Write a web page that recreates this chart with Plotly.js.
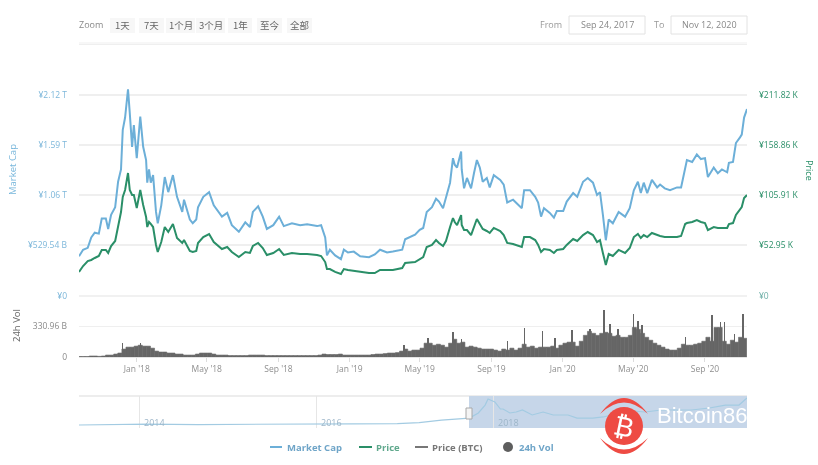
<!DOCTYPE html>
<html><head><meta charset="utf-8">
<script src="https://cdn.plot.ly/plotly-3.0.1.min.js"></script>
<style>html,body{margin:0;padding:0;background:#fff;overflow:hidden}#c{width:818px;height:465px;filter:blur(.55px)}</style>
</head><body><div id="c"></div>
<script>
const dates=["2017-09-24","2017-10-01","2017-10-09","2017-10-15","2017-10-21","2017-10-28","2017-11-02","2017-11-09","2017-11-13","2017-11-18","2017-11-25","2017-11-30","2017-12-05","2017-12-08","2017-12-12","2017-12-17","2017-12-20","2017-12-24","2017-12-27","2018-01-01","2018-01-07","2018-01-12","2018-01-17","2018-01-19","2018-01-22","2018-01-25","2018-01-29","2018-02-03","2018-02-06","2018-02-12","2018-02-18","2018-02-24","2018-03-04","2018-03-11","2018-03-20","2018-03-23","2018-04-02","2018-04-07","2018-04-13","2018-04-16","2018-04-25","2018-05-05","2018-05-13","2018-05-27","2018-06-05","2018-06-13","2018-06-25","2018-07-06","2018-07-14","2018-07-19","2018-07-28","2018-08-05","2018-08-12","2018-08-23","2018-09-02","2018-09-10","2018-09-24","2018-10-08","2018-10-20","2018-11-06","2018-11-13","2018-11-20","2018-11-23","2018-11-28","2018-12-07","2018-12-17","2018-12-22","2018-12-29","2019-01-08","2019-01-19","2019-02-03","2019-02-13","2019-02-22","2019-03-06","2019-03-16","2019-04-01","2019-04-06","2019-04-23","2019-05-01","2019-05-07","2019-05-13","2019-05-22","2019-05-29","2019-06-03","2019-06-10","2019-06-15","2019-06-22","2019-06-27","2019-06-30","2019-07-04","2019-07-11","2019-07-12","2019-07-16","2019-07-21","2019-07-28","2019-08-02","2019-08-07","2019-08-12","2019-08-17","2019-08-24","2019-08-29","2019-09-05","2019-09-16","2019-09-22","2019-09-28","2019-10-08","2019-10-23","2019-10-27","2019-11-06","2019-11-15","2019-11-20","2019-11-25","2019-11-30","2019-12-10","2019-12-17","2019-12-22","2020-01-02","2020-01-08","2020-01-19","2020-01-26","2020-02-05","2020-02-13","2020-02-22","2020-02-29","2020-03-05","2020-03-10","2020-03-15","2020-03-20","2020-03-27","2020-04-06","2020-04-17","2020-04-25","2020-05-02","2020-05-09","2020-05-14","2020-05-19","2020-05-25","2020-06-02","2020-06-11","2020-06-16","2020-06-24","2020-07-03","2020-07-15","2020-07-22","2020-07-29","2020-08-01","2020-08-10","2020-08-18","2020-08-25","2020-09-01","2020-09-06","2020-09-16","2020-09-23","2020-09-30","2020-10-09","2020-10-12","2020-10-19","2020-10-24","2020-10-31","2020-11-03","2020-11-07","2020-11-12"];
const marketCapT=[.41,.48,.50,.61,.66,.65,.81,.81,.70,.85,.93,1.20,1.33,1.75,1.88,2.18,1.93,1.57,1.80,1.45,1.89,1.57,1.43,1.19,1.33,1.19,1.27,.88,.76,.95,1.25,1.09,1.27,1.04,.88,1.01,.80,.76,.80,.93,1.04,1.09,.95,.83,.87,.74,.67,.77,.72,.88,.94,.83,.70,.74,.83,.73,.76,.74,.75,.73,.74,.61,.42,.48,.42,.38,.48,.45,.46,.41,.40,.43,.48,.45,.46,.48,.59,.64,.69,.71,.88,.93,1.02,.99,.92,1.04,1.19,1.45,1.38,1.35,1.52,1.33,1.13,1.24,1.13,1.29,1.43,1.35,1.20,1.24,1.14,1.27,1.22,1.17,.98,1.01,.92,1.11,1.11,1.04,.98,.83,.92,.87,.82,.89,.89,.99,1.08,1.04,1.20,1.24,1.19,1.06,1.09,.85,.58,.80,.76,.88,.83,.92,1.11,1.20,1.08,1.19,1.08,1.22,1.14,1.17,1.13,1.11,1.14,1.14,1.35,1.43,1.41,1.49,1.44,1.45,1.25,1.35,1.29,1.33,1.30,1.40,1.41,1.61,1.67,1.70,1.88,1.97];
const priceK=[24.4,30.7,36.0,37.1,39.2,41.3,47.7,47.7,44.5,51.9,57.2,71.0,87.9,103.8,111.2,129.2,111.2,105.9,105.9,92.1,111.2,95.3,82.6,72.0,77.3,75.2,72.0,53.0,45.5,56.1,72.0,66.7,75.2,60.4,55.1,58.2,46.6,45.5,46.6,55.1,61.4,64.6,56.1,48.7,50.8,45.5,40.2,45.5,44.5,51.9,55.1,49.8,42.4,44.5,48.7,42.4,44.5,43.4,43.4,42.4,41.3,34.9,27.5,27.5,24.4,22.2,27.5,26.5,25.4,24.4,23.3,23.3,26.5,26.5,26.5,28.6,33.9,34.9,38.1,40.2,50.8,53.0,58.2,55.1,51.9,57.2,72.0,81.5,77.3,74.1,84.7,74.1,68.8,68.8,63.5,71.0,80.5,75.2,69.9,67.8,65.7,71.0,67.8,63.5,55.1,54.0,50.8,61.4,61.4,58.2,53.0,45.5,48.7,47.7,44.5,47.7,48.7,53.0,59.3,57.2,63.5,66.7,63.5,56.1,58.2,44.5,31.8,43.4,41.3,47.7,44.5,49.8,61.4,64.6,60.4,63.5,61.4,65.7,63.5,62.5,61.4,61.4,61.4,62.5,75.2,76.2,77.3,79.4,77.3,76.2,68.8,72.0,71.0,71.0,71.0,75.2,76.2,84.7,91.1,93.2,102.7,105.9];
const weeklyVolB=[5,5,5,11,11,7,11,21,21,32,43,86,107,107,118,128,118,118,96,64,54,54,43,43,32,32,21,21,21,32,43,43,43,32,21,21,21,16,16,16,16,16,21,21,21,21,16,16,16,16,16,16,16,16,16,16,16,16,16,21,32,27,27,27,32,21,21,21,21,21,21,21,27,32,32,37,43,43,48,64,86,64,75,75,96,150,150,128,139,128,107,150,193,150,161,107,118,107,96,86,86,86,75,64,86,75,96,75,96,139,107,118,96,107,107,107,118,96,128,150,161,161,118,171,235,278,257,235,257,268,257,225,235,214,214,235,321,300,257,214,182,150,128,107,86,75,75,96,139,128,128,139,150,171,214,171,321,321,171,139,182,161,214,203];
const spikeDates=["2017-12-08","2018-01-07","2019-04-04","2019-05-15","2019-06-27","2019-07-12","2019-09-28","2019-10-27","2019-11-27","2019-12-19","2020-01-17","2020-02-17","2020-03-12","2020-03-22","2020-04-05","2020-05-01","2020-05-09","2020-05-16","2020-07-29","2020-09-13","2020-09-27","2020-10-05","2020-10-22","2020-11-05"];
const spikeVolB=[150,150,128,203,268,193,171,310,278,203,289,300,514,353,300,471,396,342,214,460,375,375,246,471];
const navDates=["2013-04-28","2013-11-01","2013-12-05","2014-02-01","2014-09-01","2015-03-01","2015-11-01","2016-06-01","2016-12-01","2017-03-01","2017-06-01","2017-09-24","2017-10-31","2017-11-28","2017-12-10","2018-01-07","2018-01-30","2018-02-10","2018-03-10","2018-04-05","2018-05-01","2018-06-10","2018-07-25","2018-09-05","2018-11-05","2018-12-12","2019-02-15","2019-03-30","2019-06-05","2019-08-01","2019-09-18","2019-11-25","2020-01-22","2020-03-28","2020-06-10","2020-08-15","2020-10-10","2020-11-12"];
const navCapT=[0,.02,.08,.08,.04,.04,.05,.10,.11,.20,.40,.56,.97,1.61,2.10,1.86,1.29,1.29,.97,1.05,1.21,.81,1.05,.81,.81,.56,.56,.65,.97,1.13,1.05,1.21,1.21,1.21,1.37,1.61,1.61,2.18];
const xTickVals=["2018-01-01","2018-05-01","2018-09-01","2019-01-01","2019-05-01","2019-09-01","2020-01-01","2020-05-01","2020-09-01"];
const xTickText=["Jan '18","May '18","Sep '18","Jan '19","May '19","Sep '19","Jan '20","May '20","Sep '20"];
const capTicks=[.53,1.06,1.59,2.12,2.65];
const capTickText=["¥529.54 B","¥1.06 T","¥1.59 T","¥2.12 T",""];
const priceTicks=[52.95,105.91,158.86,211.82];
const priceTickText=["¥52.95 K","¥105.91 K","¥158.86 K","¥211.82 K"];
const volTicks=[0,330.96,661.92];
const volTickText=["0","330.96 B",'<span style="color:#7db7da">¥0</span>'];
const navYears=["2014-01-01","2016-01-01","2018-01-01"];
const navYearText=["2014","2016","2018"];
const zoomButtons=["1天","7天","1个月","3个月","1年","至今","全部"];

const W=818,H=465,BLUE="#6cafd8",GREEN="#2a8f68",GREY="#666666",TXT="#8a8a8a",GRID="#efefef";
const start="2017-09-24",end="2020-11-12";
const X=x=>x/W, Y=y=>1-y/H;
const FONT='"Open Sans","Liberation Sans",sans-serif', CJK='"Noto Sans CJK SC",sans-serif';

const weekDates=weeklyVolB.map((_,i)=>new Date(Date.UTC(2017,8,24+7*i)).toISOString().slice(0,10));
const line=(x,y,c,w,xa,ya,name)=>({type:'scatter',mode:'lines',x,y,xaxis:xa,yaxis:ya,name,line:{color:c,width:w},hoverinfo:'x+y'});
const data=[
 line(dates,marketCapT,BLUE,2,'x','y','Market Cap'),
 line(dates,priceK,GREEN,2,'x','y2','Price'),
 {type:'bar',x:weekDates,y:weeklyVolB,xaxis:'x2',yaxis:'y3',name:'24h Vol',width:7*864e5,marker:{color:GREY,line:{color:GREY,width:.6}}},
 {type:'bar',x:spikeDates,y:spikeVolB,xaxis:'x2',yaxis:'y3',name:'24h Vol spikes',width:2.2*864e5,marker:{color:GREY,line:{width:0}}},
 {type:'scatter',mode:'lines',x:[],y:[],xaxis:'x2',yaxis:'y4',showlegend:false},
 line(navDates,navCapT,'#a3cbe2',1.2,'x3','y5','Navigator')
];

const ann=(text,x,y,o={})=>Object.assign({text,x:X(x),y:Y(y),xref:'paper',yref:'paper',showarrow:false,xanchor:'left',yanchor:'middle',font:{family:FONT,size:9,color:TXT}},o);
const rect=(x0,y0,x1,y1,fill,lc,lw,layer)=>({type:'rect',xref:'paper',yref:'paper',x0:X(x0),x1:X(x1),y0:Y(y0),y1:Y(y1),fillcolor:fill,line:{color:lc||'rgba(0,0,0,0)',width:lw||0},layer:layer||'above'});
const seg=(x0,y0,x1,y1,c,w,layer)=>({type:'line',xref:'paper',yref:'paper',x0:X(x0),x1:X(x1),y0:Y(y0),y1:Y(y1),line:{color:c,width:w},layer:layer||'above'});
const P=(x,y)=>X(x).toFixed(5)+','+Y(y).toFixed(5);
const RED="#ee4b43";

const btnBoxes=[[110,135],[139,164],[166,195],[196,225],[228,252],[257,282],[287,312]];
const shapes=[
 seg(79,43,747,43,GRID,1.2,'below'),
 seg(79,296,747,296,'#ececec',1.6,'below'),
 seg(79,396,747,396,'#dcdcdc',1.2,'below'),
 rect(469,396,747,428,'#c6d6e9',null,0,'below'),
 rect(466,408,472,419,'#f4f4f4','#a8a8a8',1,'above'),
 ...btnBoxes.map(b=>rect(b[0],18,b[1],33,'#f7f7f7',null,0,'below')),
 rect(569,16,645,34,'#ffffff','#e2e2e2',1),
 rect(671,16,747,34,'#ffffff','#e2e2e2',1),
 seg(270,447,282,447,BLUE,2),seg(359,447,372,447,GREEN,2),seg(415,447,428,447,'#777',2),
 {type:'circle',xref:'paper',yref:'paper',x0:X(503),x1:X(513),y0:Y(442),y1:Y(452),fillcolor:'#5e5e5e',line:{width:0}},
 {type:'circle',xref:'paper',yref:'paper',x0:X(605),x1:X(643),y0:Y(407),y1:Y(445),fillcolor:RED,line:{width:0}},
 {type:'path',xref:'paper',yref:'paper',fillcolor:RED,line:{width:0},path:`M${P(600,414)} Q${P(624,382)} ${P(648,414)} Q${P(624,391)} ${P(600,414)} Z`},
 {type:'path',xref:'paper',yref:'paper',fillcolor:RED,line:{width:0},path:`M${P(600,438)} Q${P(624,470)} ${P(648,438)} Q${P(624,461)} ${P(600,438)} Z`}
];
const btnCenters=[122.5,151.5,181,211,240.5,270,299.5];
const annotations=[
 ann('Zoom',77,24,{font:{family:FONT,size:9,color:'#888'}}),
 ...zoomButtons.map((t,i)=>ann(t,btnCenters[i],24.5,{xanchor:'center',font:{family:CJK,size:9.5,color:'#666'}})),
 ann('From',538,24,{font:{family:FONT,size:9,color:'#999'}}),
 ann('Sep 24, 2017',607,25,{xanchor:'center',font:{family:FONT,size:9,color:'#888'}}),
 ann('To',652,24,{font:{family:FONT,size:9,color:'#999'}}),
 ann('Nov 12, 2020',709,25,{xanchor:'center',font:{family:FONT,size:9,color:'#888'}}),
 ann('Market Cap',12,170,{xanchor:'center',textangle:-90,font:{family:FONT,size:9.5,color:'#77b6db'}}),
 ann('Price',810,170,{xanchor:'center',textangle:90,font:{family:FONT,size:9,color:GREEN}}),
 ann('24h Vol',16,326,{xanchor:'center',textangle:-90,font:{family:FONT,size:9.5,color:'#666'}}),
 ann('<b>Market Cap</b>',285,447,{font:{family:FONT,size:9.5,color:'#6fa5c8'}}),
 ann('<b>Price</b>',374,447,{font:{family:FONT,size:9.5,color:'#5fa88c'}}),
 ann('<b>Price (BTC)</b>',430,447,{font:{family:FONT,size:9.5,color:'#777'}}),
 ann('<b>24h Vol</b>',517,447,{font:{family:FONT,size:9.5,color:'#6fa5c8'}}),
 ...navYears.map((d,i)=>({text:navYearText[i],x:d,xref:'x3',xshift:3,y:Y(422),yref:'paper',showarrow:false,xanchor:'left',yanchor:'middle',font:{family:FONT,size:9,color:'#9db6c9'}})),
 ann('₿',624,426,{xanchor:'center',textangle:12,font:{family:'"DejaVu Sans",sans-serif',size:27,color:'#ffffff'}}),
 ann('Bitcoin86',655,415,{font:{family:'"Liberation Sans",Arial,sans-serif',size:22,color:'#ffffff'}})
];
const tickf=c=>({family:FONT,size:8.5,color:c});
const layout={
 width:W,height:H,margin:{l:0,r:0,t:0,b:0},paper_bgcolor:'#fff',plot_bgcolor:'rgba(0,0,0,0)',showlegend:false,barmode:'overlay',bargap:0,hovermode:false,
 xaxis:{domain:[X(79),X(747)],range:[start,end],type:'date',anchor:'y',visible:false},
 xaxis2:{domain:[X(79),X(747)],range:[start,end],type:'date',anchor:'y3',tickmode:'array',tickvals:xTickVals,ticktext:xTickText,tickfont:tickf('#8f8f8f'),ticks:'outside',ticklen:4,tickcolor:'#ddd',showgrid:false,showline:true,linecolor:'#e4e4e4',zeroline:false},
 xaxis3:{domain:[X(79),X(747)],range:['2013-04-28',end],type:'date',anchor:'y5',tickmode:'array',tickvals:navYears,showticklabels:false,showgrid:true,gridcolor:'#e6e6e6',ticks:'',showline:false,zeroline:false},
 yaxis:{domain:[Y(295),Y(43)],range:[0,2.67],anchor:'x',tickmode:'array',tickvals:capTicks,ticktext:capTickText,tickfont:tickf('#7db7da'),gridcolor:GRID,gridwidth:1.2,zeroline:false,showline:false,ticks:'',ticklabelstandoff:11},
 yaxis2:{domain:[Y(295),Y(43)],range:[0,266.9],anchor:'x',overlaying:'y',side:'right',tickmode:'array',tickvals:priceTicks,ticktext:priceTickText,tickfont:tickf(GREEN),showgrid:false,zeroline:false,showline:false,ticks:'',ticklabelstandoff:11},
 yaxis3:{domain:[Y(357),Y(296)],range:[0,661.92],anchor:'x2',tickmode:'array',tickvals:volTicks,ticktext:volTickText,tickfont:tickf('#8a8a8a'),gridcolor:GRID,zeroline:false,showline:false,ticks:'',ticklabelstandoff:11},
 yaxis4:{domain:[Y(357),Y(296)],range:[0,661.92],anchor:'x2',overlaying:'y3',side:'right',tickmode:'array',tickvals:[661.92],ticktext:['¥0'],tickfont:tickf('#6fb0a8'),showgrid:false,zeroline:false,showline:false,ticks:'',ticklabelstandoff:11},
 yaxis5:{domain:[Y(428),Y(396)],range:[-.24,2.34],anchor:'x3',visible:false},
 shapes,annotations
};
Plotly.newPlot('c',data,layout,{displayModeBar:false,staticPlot:true});
</script></body></html>
